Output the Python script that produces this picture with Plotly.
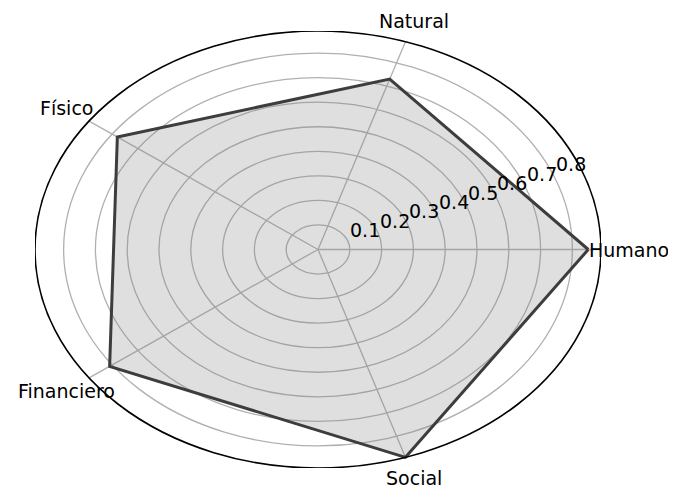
import numpy as np
import plotly.graph_objects as go

# ---- data ----
categories = ["Humano", "Natural", "Físico", "Financiero", "Social"]
values = [0.85, 0.73, 0.78, 0.81, 0.89]
radial_ticks = [0.1, 0.2, 0.3, 0.4, 0.5, 0.6, 0.7, 0.8]
radial_tick_labels = ["0.1", "0.2", "0.3", "0.4", "0.5", "0.6", "0.7", "0.8"]

rmax = max(values)
n = len(categories)
angles = np.linspace(0, 2 * np.pi, n, endpoint=False)
vals = np.array(values)
px = vals * np.cos(angles)
py = vals * np.sin(angles)
px = np.append(px, px[0])
py = np.append(py, py[0])

FONT = "DejaVu Sans"
FS = 19
fig = go.Figure()

fig.add_trace(go.Scatter(
    x=px, y=py, mode="lines", fill="toself",
    fillcolor="rgba(128,128,128,0.25)",
    line=dict(color="#3d3d3d", width=3),
    hoverinfo="skip", showlegend=False,
))

shapes = []
# concentric grid rings
for t in radial_ticks:
    shapes.append(dict(type="circle", xref="x", yref="y", x0=-t, y0=-t, x1=t, y1=t,
                       line=dict(color="#b0b0b0", width=1.3), layer="below"))
# spokes
for a in angles:
    shapes.append(dict(type="line", xref="x", yref="y", x0=0, y0=0,
                       x1=rmax * np.cos(a), y1=rmax * np.sin(a),
                       line=dict(color="#b0b0b0", width=1.3), layer="below"))
# outer ring
shapes.append(dict(type="circle", xref="x", yref="y", x0=-rmax, y0=-rmax, x1=rmax, y1=rmax,
                   line=dict(color="black", width=1.6), layer="above"))


def to_paper(x, y):
    return (x + rmax) / (2 * rmax), (y + rmax) / (2 * rmax)


annotations = []
for cat, a in zip(categories, angles):
    xp, yp = to_paper(1.1 * rmax * np.cos(a), 1.1 * rmax * np.sin(a))
    annotations.append(dict(x=xp, y=yp, xref="paper", yref="paper", text=cat,
                            showarrow=False, xanchor="center", yanchor="middle",
                            font=dict(family=FONT, size=FS, color="black")))

lab_ang = np.deg2rad(22.5)
for t, lab in zip(radial_ticks, radial_tick_labels):
    xp, yp = to_paper(t * np.cos(lab_ang), t * np.sin(lab_ang))
    annotations.append(dict(x=xp, y=yp, xref="paper", yref="paper", text=lab,
                            showarrow=False, xanchor="left", yanchor="bottom",
                            xshift=1, yshift=-3,
                            font=dict(family=FONT, size=FS, color="black")))

fig.update_layout(
    width=676, height=488,
    margin=dict(l=27, r=83, t=23, b=28),
    paper_bgcolor="white", plot_bgcolor="white",
    xaxis=dict(range=[-rmax, rmax], visible=False, fixedrange=True),
    yaxis=dict(range=[-rmax, rmax], visible=False, fixedrange=True),
    shapes=shapes, annotations=annotations, showlegend=False,
)

fig.write_html("out.html")
